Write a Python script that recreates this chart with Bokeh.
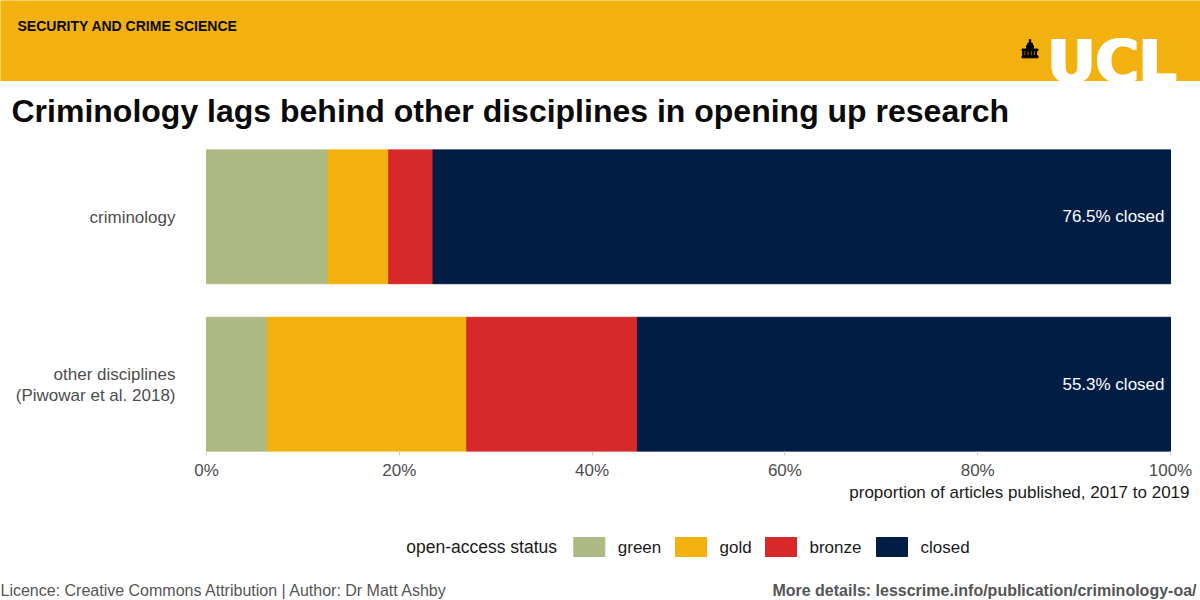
from bokeh.plotting import figure
from bokeh.models import Range1d, FixedTicker, PrintfTickFormatter, ColumnDataSource
from bokeh.layouts import column
from bokeh.embed import file_html
from bokeh.resources import INLINE
from bokeh.core.properties import value

# ---------------- data ----------------
disciplines = ["criminology", "other disciplines\n(Piwowar et al. 2018)"]
statuses = ["green", "gold", "bronze", "closed"]
green = [12.6, 6.3]
gold = [6.3, 20.7]
bronze = [4.6, 17.7]
closed = [76.5, 55.3]
status_colors = ["#ADB982", "#F2B10E", "#D7282A", "#021D43"]
x_ticks = [0, 20, 40, 60, 80, 100]

header_text = "SECURITY AND CRIME SCIENCE"
title_text = "Criminology lags behind other disciplines in opening up research"
x_title = "proportion of articles published, 2017 to 2019"
legend_title = "open-access status"
footer_left = "Licence: Creative Commons Attribution | Author: Dr Matt Ashby"
footer_right = "More details: lesscrime.info/publication/criminology-oa/"

FONT = value("Liberation Sans")
BAND = "#F2B10E"
W = 1200
PANEL_L, PANEL_R = 206, 1170          # pixel edges of 0% and 100%
PX_PER_PCT = (PANEL_R - PANEL_L) / 100.0

n = len(disciplines)
ypos = [n - 1 - i for i in range(n)]   # first category on top


def blank(height, top, bottom):
    f = figure(width=W, height=height, x_range=Range1d(0, W), y_range=Range1d(bottom, top),
               output_backend="svg", toolbar_location=None, tools="",
               x_axis_location=None, y_axis_location=None, min_border=0,
               outline_line_color=None, background_fill_color="white", border_fill_color="white")
    f.grid.visible = False
    return f


def txt(f, x, y, text, size, color, bold=False, align="left", font=FONT, dx=0):
    # y is the vertical middle of the text line
    f.text(x=[x], y=[y], text=[text], x_offset=dx, text_font=font, text_font_size=size,
           text_font_style="bold" if bold else "normal", text_color=color,
           text_align=align, text_baseline="middle")


# ---------------- header ----------------
h = blank(149, 0, 149)
h.quad(left=[0], right=[W], top=[0], bottom=[80], color=BAND)
txt(h, 17, 25.1, header_text, "14px", "#0A0A0A", bold=True)
for dx in (-1.5, 0, 1.5):
    txt(h, 1047, 60.5, "UCL", "59px", "white", bold=True, font=value("DejaVu Sans"), dx=dx)
# UCL building icon
h.quad(left=[1021.5], right=[1037.5], top=[55.3], bottom=[57.3], color="black")
cols = [1022.2, 1025.3, 1028.4, 1031.5, 1034.6]
h.quad(left=cols, right=[c + 1.4 for c in cols], top=[50.3] * 5, bottom=[55.3] * 5, color="black")
h.quad(left=[1021.5, 1026.0, 1027.2, 1028.8], right=[1037.5, 1033.0, 1031.8, 1030.2],
       top=[48.6, 45.0, 42.6, 39.0], bottom=[50.3, 48.6, 45.0, 42.6], color="black")
txt(h, 11, 110.5, title_text, "32px", "#0A0A0A", bold=True)

# ---------------- main chart ----------------
source = ColumnDataSource(dict(ypos=ypos, green=green, gold=gold, bronze=bronze, closed=closed))
p = figure(width=W, height=333,
           y_range=Range1d(-0.4, n - 1 + 0.4),
           x_range=Range1d(-PANEL_L / PX_PER_PCT, 100 + (W - PANEL_R) / PX_PER_PCT),
           output_backend="svg", toolbar_location=None, tools="", y_axis_location=None,
           min_border_left=0, min_border_right=0, min_border_top=0, min_border_bottom=29,
           outline_line_color=None, background_fill_color="white", border_fill_color="white")
p.hbar_stack(statuses, y="ypos", height=0.8, color=status_colors, source=source)
labels = [f"{c:.1f}% closed" for c in closed]
p.text(x=[100] * n, y=ypos, text=labels, x_offset=-6,
       text_align="right", text_baseline="middle", text_color="white",
       text_font_size="17px", text_font=FONT)
# category labels
p.text(x=[0] * n, y=ypos, text=disciplines, x_offset=-31, y_offset=1,
       text_align="right", text_baseline="middle", text_color="#4D4D4D",
       text_font_size="17px", text_font=FONT, text_line_height=1.1)

p.grid.visible = False
p.xaxis.ticker = FixedTicker(ticks=x_ticks)
p.xaxis.formatter = PrintfTickFormatter(format="%d%%")
p.xaxis.axis_line_color = None
p.xaxis.major_tick_line_color = "#CCCCCC"
p.xaxis.major_tick_out = 4
p.xaxis.major_tick_in = 0
p.xaxis.minor_tick_line_color = None
p.xaxis.major_label_standoff = 5
p.xaxis.major_label_text_font = "Liberation Sans"
p.xaxis.major_label_text_font_size = "17px"
p.xaxis.major_label_text_color = "#4D4D4D"

# ---------------- legend + footer ----------------
f = blank(118, 482, 600)
txt(f, 1189, 492, x_title, "17px", "#1A1A1A", align="right")
txt(f, 405.7, 546.5, legend_title, "17.5px", "#1A1A1A")
key_left = [573.3, 675.0, 765.0, 876.0]
f.quad(left=key_left, right=[k + 31 for k in key_left], top=[537] * 4, bottom=[556] * 4,
       color=status_colors)
f.text(x=[k + 44 for k in key_left], y=[546.5] * 4, text=statuses, text_font=FONT,
       text_font_size="17px", text_color="#1A1A1A", text_align="left", text_baseline="middle")
txt(f, 0, 589.5, footer_left, "16px", "#555555")
txt(f, 1196, 589.5, footer_right, "16px", "#555555", bold=True, align="right")

layout = column(h, p, f, spacing=0)
open("out.html", "w").write(file_html(layout, INLINE))
